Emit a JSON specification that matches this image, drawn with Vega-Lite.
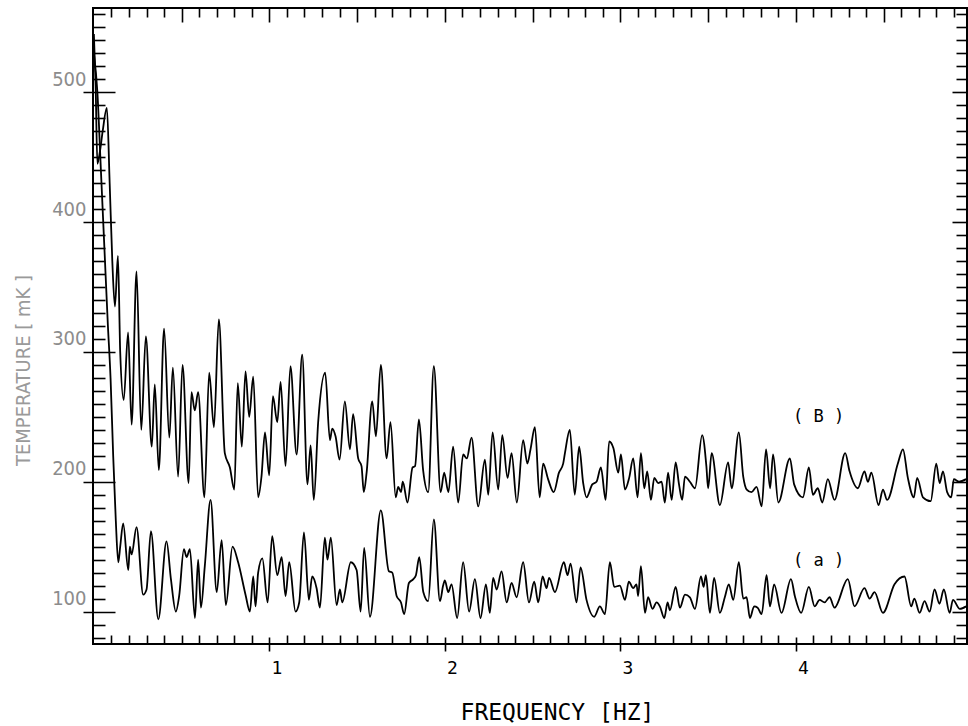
{
  "$schema": "https://vega.github.io/schema/vega-lite/v6.json",
  "width": 874,
  "height": 636,
  "autosize": {"type": "none"},
  "padding": {"left": 93, "top": 8, "right": 1, "bottom": 82},
  "background": "white",
  "config": {
    "view": {"stroke": "black", "strokeWidth": 2},
    "axis": {"grid": false, "tickColor": "black", "tickWidth": 1.6, "domain": false, "labels": false, "title": null}
  },
  "datasets": {
    "a": [
      {"f":0.000,"t":530},{"f":0.020,"t":500},{"f":0.040,"t":440},{"f":0.060,"t":380},{"f":0.080,"t":320},{"f":0.095,"t":280},{"f":0.110,"t":220},{"f":0.125,"t":170},{"f":0.139,"t":138},{"f":0.150,"t":150},{"f":0.167,"t":168},{"f":0.196,"t":132},{"f":0.205,"t":150},{"f":0.215,"t":144},{"f":0.243,"t":165},{"f":0.281,"t":113},{"f":0.300,"t":117},{"f":0.325,"t":162},{"f":0.367,"t":94},{"f":0.414,"t":154},{"f":0.439,"t":125},{"f":0.467,"t":100},{"f":0.486,"t":112},{"f":0.513,"t":148},{"f":0.528,"t":142},{"f":0.547,"t":148},{"f":0.576,"t":95},{"f":0.594,"t":140},{"f":0.610,"t":103},{"f":0.632,"t":135},{"f":0.665,"t":186},{"f":0.700,"t":115},{"f":0.728,"t":155},{"f":0.752,"t":105},{"f":0.790,"t":150},{"f":0.822,"t":138},{"f":0.864,"t":113},{"f":0.889,"t":100},{"f":0.908,"t":127},{"f":0.921,"t":104},{"f":0.936,"t":130},{"f":0.960,"t":141},{"f":0.990,"t":107},{"f":1.016,"t":158},{"f":1.045,"t":128},{"f":1.070,"t":142},{"f":1.092,"t":112},{"f":1.113,"t":138},{"f":1.149,"t":100},{"f":1.170,"t":107},{"f":1.197,"t":161},{"f":1.225,"t":109},{"f":1.244,"t":127},{"f":1.269,"t":118},{"f":1.288,"t":103},{"f":1.316,"t":157},{"f":1.331,"t":140},{"f":1.350,"t":157},{"f":1.383,"t":105},{"f":1.402,"t":117},{"f":1.415,"t":107},{"f":1.464,"t":138},{"f":1.497,"t":132},{"f":1.520,"t":100},{"f":1.540,"t":149},{"f":1.573,"t":96},{"f":1.635,"t":178},{"f":1.681,"t":131},{"f":1.700,"t":130},{"f":1.725,"t":112},{"f":1.750,"t":107},{"f":1.768,"t":98},{"f":1.795,"t":122},{"f":1.820,"t":125},{"f":1.835,"t":128},{"f":1.854,"t":142},{"f":1.877,"t":115},{"f":1.905,"t":108},{"f":1.937,"t":171},{"f":1.972,"t":108},{"f":1.990,"t":120},{"f":2.000,"t":124},{"f":2.019,"t":115},{"f":2.038,"t":121},{"f":2.070,"t":95},{"f":2.104,"t":138},{"f":2.138,"t":100},{"f":2.171,"t":125},{"f":2.203,"t":95},{"f":2.234,"t":121},{"f":2.256,"t":99},{"f":2.275,"t":126},{"f":2.295,"t":117},{"f":2.323,"t":131},{"f":2.352,"t":107},{"f":2.380,"t":122},{"f":2.409,"t":111},{"f":2.446,"t":138},{"f":2.479,"t":107},{"f":2.509,"t":123},{"f":2.532,"t":107},{"f":2.557,"t":127},{"f":2.579,"t":118},{"f":2.594,"t":126},{"f":2.627,"t":115},{"f":2.678,"t":138},{"f":2.699,"t":128},{"f":2.716,"t":137},{"f":2.750,"t":107},{"f":2.773,"t":134},{"f":2.807,"t":109},{"f":2.851,"t":96},{"f":2.883,"t":104},{"f":2.912,"t":98},{"f":2.940,"t":138},{"f":2.965,"t":119},{"f":2.997,"t":120},{"f":3.026,"t":109},{"f":3.048,"t":123},{"f":3.073,"t":118},{"f":3.092,"t":121},{"f":3.101,"t":112},{"f":3.117,"t":135},{"f":3.140,"t":99},{"f":3.158,"t":111},{"f":3.183,"t":102},{"f":3.206,"t":107},{"f":3.225,"t":104},{"f":3.250,"t":95},{"f":3.269,"t":107},{"f":3.282,"t":101},{"f":3.315,"t":119},{"f":3.339,"t":103},{"f":3.368,"t":113},{"f":3.396,"t":111},{"f":3.425,"t":102},{"f":3.459,"t":127},{"f":3.474,"t":119},{"f":3.487,"t":128},{"f":3.510,"t":99},{"f":3.534,"t":126},{"f":3.567,"t":99},{"f":3.595,"t":111},{"f":3.618,"t":121},{"f":3.643,"t":109},{"f":3.675,"t":138},{"f":3.700,"t":110},{"f":3.719,"t":111},{"f":3.738,"t":95},{"f":3.762,"t":104},{"f":3.782,"t":103},{"f":3.805,"t":98},{"f":3.833,"t":128},{"f":3.852,"t":104},{"f":3.876,"t":121},{"f":3.918,"t":99},{"f":3.972,"t":125},{"f":3.994,"t":112},{"f":4.030,"t":99},{"f":4.074,"t":119},{"f":4.107,"t":104},{"f":4.135,"t":109},{"f":4.163,"t":107},{"f":4.192,"t":111},{"f":4.220,"t":103},{"f":4.296,"t":125},{"f":4.334,"t":104},{"f":4.391,"t":118},{"f":4.420,"t":110},{"f":4.448,"t":115},{"f":4.496,"t":99},{"f":4.562,"t":121},{"f":4.619,"t":127},{"f":4.657,"t":104},{"f":4.675,"t":110},{"f":4.705,"t":99},{"f":4.733,"t":108},{"f":4.762,"t":100},{"f":4.790,"t":117},{"f":4.818,"t":106},{"f":4.843,"t":117},{"f":4.876,"t":99},{"f":4.895,"t":109},{"f":4.934,"t":102},{"f":4.970,"t":104}
    ],
    "b": [
      {"f":0.000,"t":545},{"f":0.010,"t":505},{"f":0.020,"t":445},{"f":0.035,"t":455},{"f":0.050,"t":470},{"f":0.074,"t":488},{"f":0.090,"t":430},{"f":0.105,"t":370},{"f":0.120,"t":335},{"f":0.137,"t":374},{"f":0.150,"t":300},{"f":0.170,"t":263},{"f":0.195,"t":315},{"f":0.215,"t":244},{"f":0.243,"t":362},{"f":0.270,"t":240},{"f":0.296,"t":312},{"f":0.330,"t":227},{"f":0.347,"t":275},{"f":0.370,"t":209},{"f":0.400,"t":318},{"f":0.430,"t":234},{"f":0.450,"t":288},{"f":0.480,"t":204},{"f":0.505,"t":290},{"f":0.540,"t":199},{"f":0.556,"t":269},{"f":0.575,"t":255},{"f":0.594,"t":269},{"f":0.630,"t":188},{"f":0.657,"t":284},{"f":0.684,"t":242},{"f":0.712,"t":325},{"f":0.746,"t":222},{"f":0.775,"t":211},{"f":0.800,"t":194},{"f":0.820,"t":276},{"f":0.843,"t":227},{"f":0.864,"t":285},{"f":0.885,"t":250},{"f":0.908,"t":281},{"f":0.936,"t":188},{"f":0.955,"t":204},{"f":0.975,"t":238},{"f":0.999,"t":205},{"f":1.020,"t":266},{"f":1.045,"t":246},{"f":1.064,"t":277},{"f":1.092,"t":212},{"f":1.120,"t":289},{"f":1.155,"t":221},{"f":1.187,"t":298},{"f":1.217,"t":198},{"f":1.235,"t":228},{"f":1.253,"t":186},{"f":1.278,"t":246},{"f":1.318,"t":284},{"f":1.345,"t":232},{"f":1.358,"t":241},{"f":1.377,"t":235},{"f":1.400,"t":217},{"f":1.430,"t":262},{"f":1.459,"t":225},{"f":1.477,"t":252},{"f":1.506,"t":218},{"f":1.525,"t":212},{"f":1.538,"t":192},{"f":1.554,"t":207},{"f":1.586,"t":262},{"f":1.607,"t":235},{"f":1.635,"t":290},{"f":1.668,"t":218},{"f":1.690,"t":246},{"f":1.720,"t":188},{"f":1.734,"t":196},{"f":1.750,"t":192},{"f":1.760,"t":200},{"f":1.787,"t":184},{"f":1.816,"t":211},{"f":1.830,"t":212},{"f":1.852,"t":248},{"f":1.876,"t":209},{"f":1.905,"t":192},{"f":1.937,"t":289},{"f":1.976,"t":192},{"f":1.996,"t":207},{"f":2.020,"t":192},{"f":2.047,"t":227},{"f":2.076,"t":184},{"f":2.104,"t":221},{"f":2.125,"t":218},{"f":2.152,"t":234},{"f":2.190,"t":181},{"f":2.228,"t":217},{"f":2.247,"t":190},{"f":2.272,"t":238},{"f":2.304,"t":194},{"f":2.327,"t":236},{"f":2.357,"t":203},{"f":2.380,"t":222},{"f":2.410,"t":184},{"f":2.446,"t":232},{"f":2.470,"t":214},{"f":2.488,"t":225},{"f":2.513,"t":242},{"f":2.540,"t":188},{"f":2.560,"t":214},{"f":2.588,"t":202},{"f":2.620,"t":192},{"f":2.650,"t":207},{"f":2.674,"t":214},{"f":2.684,"t":222},{"f":2.712,"t":240},{"f":2.740,"t":190},{"f":2.765,"t":227},{"f":2.788,"t":199},{"f":2.807,"t":188},{"f":2.840,"t":198},{"f":2.864,"t":200},{"f":2.889,"t":211},{"f":2.916,"t":186},{"f":2.936,"t":231},{"f":2.960,"t":226},{"f":2.988,"t":207},{"f":3.003,"t":221},{"f":3.026,"t":194},{"f":3.050,"t":203},{"f":3.073,"t":218},{"f":3.098,"t":188},{"f":3.117,"t":222},{"f":3.136,"t":195},{"f":3.153,"t":208},{"f":3.174,"t":186},{"f":3.193,"t":203},{"f":3.215,"t":199},{"f":3.235,"t":200},{"f":3.253,"t":184},{"f":3.272,"t":207},{"f":3.292,"t":186},{"f":3.315,"t":215},{"f":3.334,"t":198},{"f":3.352,"t":186},{"f":3.368,"t":204},{"f":3.396,"t":200},{"f":3.425,"t":195},{"f":3.466,"t":236},{"f":3.490,"t":212},{"f":3.500,"t":195},{"f":3.520,"t":222},{"f":3.567,"t":182},{"f":3.614,"t":215},{"f":3.634,"t":195},{"f":3.675,"t":238},{"f":3.700,"t":204},{"f":3.720,"t":194},{"f":3.747,"t":192},{"f":3.776,"t":196},{"f":3.805,"t":181},{"f":3.830,"t":225},{"f":3.853,"t":195},{"f":3.870,"t":221},{"f":3.900,"t":184},{"f":3.966,"t":218},{"f":3.990,"t":198},{"f":4.040,"t":188},{"f":4.074,"t":211},{"f":4.097,"t":190},{"f":4.125,"t":195},{"f":4.150,"t":184},{"f":4.182,"t":202},{"f":4.220,"t":186},{"f":4.281,"t":222},{"f":4.306,"t":208},{"f":4.353,"t":195},{"f":4.391,"t":208},{"f":4.410,"t":200},{"f":4.430,"t":207},{"f":4.471,"t":182},{"f":4.496,"t":194},{"f":4.520,"t":186},{"f":4.581,"t":214},{"f":4.610,"t":225},{"f":4.638,"t":203},{"f":4.672,"t":188},{"f":4.691,"t":203},{"f":4.724,"t":188},{"f":4.768,"t":185},{"f":4.800,"t":214},{"f":4.819,"t":199},{"f":4.838,"t":208},{"f":4.862,"t":192},{"f":4.885,"t":188},{"f":4.900,"t":202},{"f":4.930,"t":200},{"f":4.970,"t":202}
    ]
  },
  "layer": [
    {
      "data": {"name": "a"},
      "mark": {"type": "line", "color": "black", "strokeWidth": 1.8, "interpolate": "monotone"},
      "encoding": {
        "x": {"field": "f", "type": "quantitative",
              "scale": {"domain": [-0.005, 4.975], "nice": false, "zero": false},
              "axis": {"orient": "bottom", "values": [1, 2, 3, 4], "offset": -7, "tickSize": 14,
                       "labels": true, "labelFont": "DejaVu Sans Mono", "labelFontSize": 18, "labelColor": "black",
                       "labelOffset": 7, "labelPadding": 8, "labelBaseline": "top",
                       "title": "FREQUENCY [HZ]", "titleFont": "DejaVu Sans Mono", "titleFontSize": 23,
                       "titleFontWeight": "normal", "titleColor": "black",
                       "titleX": 464, "titleY": 75, "titleAlign": "center", "titleBaseline": "middle"}},
        "y": {"field": "t", "type": "quantitative",
              "scale": {"domain": [75, 565], "nice": false, "zero": false},
              "axis": {"orient": "left", "values": [100, 200, 300, 400, 500], "offset": -22, "tickSize": 32,
                       "labels": true, "labelFont": "DejaVu Sans Condensed", "labelFontSize": 20, "labelColor": "#8c8c8c",
                       "labelBaseline": "bottom", "labelPadding": -3, "labelOffset": -3,
                       "title": "TEMPERATURE [ mK ]", "titleFont": "DejaVu Sans Condensed", "titleFontSize": 20,
                       "titleFontWeight": "normal", "titleColor": "#9a9a9a", "titleAngle": 270,
                       "titleX": -92, "titleY": 362, "titleAlign": "center", "titleBaseline": "middle"}}
      }
    },
    {
      "data": {"name": "b"},
      "mark": {"type": "line", "color": "black", "strokeWidth": 1.8, "interpolate": "monotone"},
      "encoding": {
        "x": {"field": "f", "type": "quantitative",
              "scale": {"domain": [-0.005, 4.975], "nice": false, "zero": false},
              "axis": {"orient": "bottom", "values": [0.1,0.2,0.3,0.4,0.5,0.6,0.7,0.8,0.9,1.1,1.2,1.3,1.4,1.5,1.6,1.7,1.8,1.9,2.1,2.2,2.3,2.4,2.5,2.6,2.7,2.8,2.9,3.1,3.2,3.3,3.4,3.5,3.6,3.7,3.8,3.9,4.1,4.2,4.3,4.4,4.5,4.6,4.7,4.8,4.9],
                       "offset": -9, "tickSize": 9}},
        "y": {"field": "t", "type": "quantitative",
              "scale": {"domain": [75, 565], "nice": false, "zero": false},
              "axis": {"orient": "left", "values": [80,90,110,120,130,140,150,160,170,180,190,210,220,230,240,250,260,270,280,290,310,320,330,340,350,360,370,380,390,410,420,430,440,450,460,470,480,490,510,520,530,540,550,560],
                       "offset": -12, "tickSize": 12}}
      }
    },
    {
      "data": {"values": [{}]},
      "mark": {"type": "text", "font": "DejaVu Sans Mono", "fontSize": 17, "color": "black", "align": "center", "baseline": "middle"},
      "encoding": {
        "x": {"datum": 4.13, "type": "quantitative",
              "scale": {"domain": [-0.005, 4.975], "nice": false, "zero": false},
              "axis": {"orient": "top", "values": [0.1,0.2,0.3,0.4,0.6,0.7,0.8,0.9,1.1,1.2,1.3,1.4,1.6,1.7,1.8,1.9,2.1,2.2,2.3,2.4,2.6,2.7,2.8,2.9,3.1,3.2,3.3,3.4,3.6,3.7,3.8,3.9,4.1,4.2,4.3,4.4,4.6,4.7,4.8,4.9],
                       "offset": -9, "tickSize": 9}},
        "y": {"datum": 250, "type": "quantitative",
              "scale": {"domain": [75, 565], "nice": false, "zero": false},
              "axis": {"orient": "right", "values": [80,90,110,120,130,140,150,160,170,180,190,210,220,230,240,250,260,270,280,290,310,320,330,340,350,360,370,380,390,410,420,430,440,450,460,470,480,490,510,520,530,540,550,560],
                       "offset": -11, "tickSize": 11}},
        "text": {"value": "( B )"}
      }
    },
    {
      "data": {"values": [{}]},
      "mark": {"type": "text", "font": "DejaVu Sans Mono", "fontSize": 17, "color": "black", "align": "center", "baseline": "middle"},
      "encoding": {
        "x": {"datum": 4.13, "type": "quantitative",
              "scale": {"domain": [-0.005, 4.975], "nice": false, "zero": false},
              "axis": {"orient": "top", "values": [0.5, 1, 1.5, 2, 2.5, 3, 3.5, 4, 4.5],
                       "offset": -14, "tickSize": 14}},
        "y": {"datum": 139, "type": "quantitative",
              "scale": {"domain": [75, 565], "nice": false, "zero": false},
              "axis": {"orient": "right", "values": [100, 200, 300, 400, 500],
                       "offset": -15, "tickSize": 15}},
        "text": {"value": "( a )"}
      }
    }
  ]
}
